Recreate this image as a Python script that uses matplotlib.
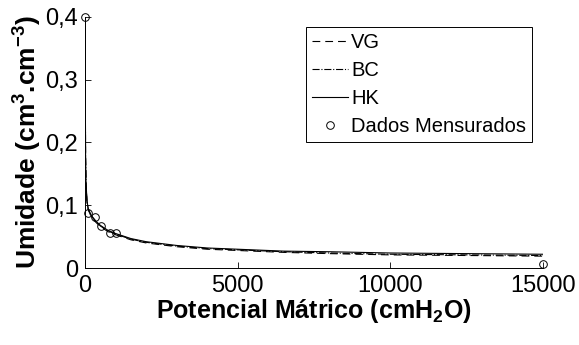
import matplotlib
matplotlib.use("Agg")
import matplotlib.pyplot as plt
from matplotlib.ticker import FuncFormatter

plt.rcParams["font.family"] = ["Liberation Sans", "DejaVu Sans"]
plt.rcParams["mathtext.fontset"] = "custom"
plt.rcParams["mathtext.bf"] = "Liberation Sans:bold"
plt.rcParams["mathtext.rm"] = "Liberation Sans:bold"

# fitted curves
psi_fit = [0, 5, 15, 30, 60, 100, 200, 350, 500, 750, 1000, 1500, 2000,
           3000, 4000, 5000, 6500, 8000, 10000, 12500, 15000]
theta_vg = [0.400, 0.290, 0.175, 0.132, 0.106, 0.093, 0.082, 0.073, 0.066,
            0.058, 0.053, 0.045, 0.040, 0.034, 0.030, 0.028, 0.025, 0.023,
            0.021, 0.020, 0.019]
theta_bc = [0.400, 0.300, 0.178, 0.134, 0.107, 0.094, 0.083, 0.074, 0.067,
            0.059, 0.054, 0.046, 0.041, 0.035, 0.031, 0.029, 0.026, 0.024,
            0.022, 0.021, 0.020]
theta_hk = [0.400, 0.305, 0.180, 0.136, 0.108, 0.095, 0.084, 0.075, 0.068,
            0.060, 0.055, 0.047, 0.042, 0.036, 0.032, 0.030, 0.027, 0.026,
            0.024, 0.023, 0.022]

# measured points
psi_obs = [0, 100, 330, 520, 820, 1000, 15000]
theta_obs = [0.400, 0.088, 0.081, 0.067, 0.056, 0.056, 0.006]

fig = plt.figure(figsize=(5.79, 3.45), dpi=100)
ax = fig.add_axes([0.147, 0.223, 0.791, 0.728])

ax.plot(psi_fit, theta_vg, "k--", lw=0.8, dashes=(7, 4.5), label="VG")
ax.plot(psi_fit, theta_bc, "k-.", lw=0.8, label="BC")
ax.plot(psi_fit, theta_hk, "k-", lw=0.8, label="HK")
ax.plot(psi_obs, theta_obs, "o", mfc="none", mec="k", ms=5.5, mew=0.7,
        clip_on=False, zorder=5, label="Dados Mensurados")

ax.set_xlim(0, 15000)
ax.set_ylim(0, 0.4)
ax.set_xticks([0, 5000, 10000, 15000])
ax.set_yticks([0, 0.1, 0.2, 0.3, 0.4])
ax.yaxis.set_major_formatter(FuncFormatter(
    lambda v, p: "0" if v == 0 else f"{v:.1f}".replace(".", ",")))

# only left/bottom axis lines, ticks pointing in
for s in ["top", "right"]:
    ax.spines[s].set_visible(False)
ax.spines["left"].set_linewidth(0.7)
ax.spines["bottom"].set_linewidth(0.7)
ax.tick_params(direction="in", length=4, width=0.6, labelsize=17, pad=5)

ax.set_xlabel(r"Potencial Mátrico (cmH$_\mathbf{2}$O)", fontsize=18,
              fontweight="bold", labelpad=0)
ax.set_ylabel(r"Umidade (cm$^\mathbf{3}$.cm$^\mathbf{-3}$)", fontsize=19,
              fontweight="bold", labelpad=2)

leg = ax.legend(loc="upper right", bbox_to_anchor=(532 / 579, 1 - 27 / 345),
                bbox_transform=fig.transFigure, borderaxespad=0,
                fontsize=14.5, fancybox=False, framealpha=1, edgecolor="k",
                handlelength=1.8, handletextpad=0.15, labelspacing=0.45,
                borderpad=0.3)
leg.get_frame().set_linewidth(0.7)

fig.savefig("out.png", dpi=100)
